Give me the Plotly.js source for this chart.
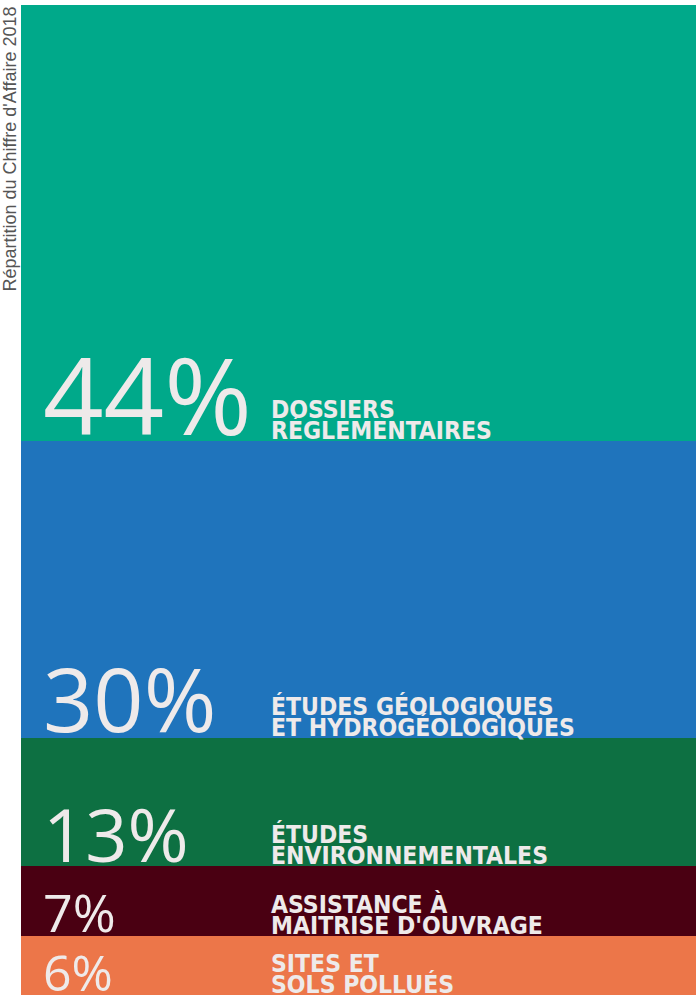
<!DOCTYPE html>
<html>
<head>
<meta charset="utf-8">
<script src="https://cdn.plot.ly/plotly-3.0.1.min.js"></script>
<style>html,body{margin:0;padding:0;background:#fff;}#chart{width:696px;height:995px;}</style>
</head>
<body>
<div id="chart"></div>
<script>
// Data (top to bottom in the picture)
const categories = ["Dossiers réglementaires", "Études géologiques et hydrogéologiques", "Études environnementales", "Assistance à maîtrise d'ouvrage", "Sites et sols pollués"];
const shares = [44, 30, 13, 7, 6];
const pctLabels = ["44%", "30%", "13%", "7%", "6%"];
const labelLine1 = ["DOSSIERS", "ÉTUDES GÉOLOGIQUES", "ÉTUDES", "ASSISTANCE À", "SITES ET"];
const labelLine2 = ["RÉGLEMENTAIRES", "ET HYDROGÉOLOGIQUES", "ENVIRONNEMENTALES", "MAITRISE D'OUVRAGE", "SOLS POLLUÉS"];
const colors = ["#00A98A", "#1F74BC", "#0D7042", "#4A0012", "#EC7649"];
const pctSizes = [106, 88, 74, 52, 50];
const title = "Répartition du Chiffre d'Affaire 2018";

// stacking: bottom-most segment drawn first
const order = [4, 3, 2, 1, 0];
const traces = order.map(i => ({
  type: 'bar',
  x: ['CA'],
  y: [shares[i]],
  name: categories[i],
  marker: {color: colors[i], line: {width: 0}},
  hoverinfo: 'name+y',
  showlegend: false
}));

// bottoms of each segment in data units
const bottoms = [];
let acc = 0;
for (const i of order) { bottoms[i] = acc; acc += shares[i]; }

const txtColor = "#EEEAEA";
const annotations = [];
for (let i = 0; i < shares.length; i++) {
  annotations.push({
    xref: 'paper', yref: 'y', x: 0.035, y: bottoms[i], xanchor: 'left', yanchor: 'bottom',
    text: pctLabels[i], showarrow: false, yshift: -pctSizes[i] * 0.26, xshift: -4,
    font: {family: 'Open Sans, sans-serif', weight: 400, size: pctSizes[i], color: txtColor}
  });
  annotations.push({
    xref: 'paper', yref: 'y', x: 0.372, y: bottoms[i], xanchor: 'left', yanchor: 'bottom',
    text: labelLine2[i], showarrow: false, yshift: -6, xshift: -3,
    font: {family: 'DejaVu Sans Condensed, sans-serif', weight: 'bold', size: 24.5, color: txtColor}
  });
  annotations.push({
    xref: 'paper', yref: 'y', x: 0.372, y: bottoms[i], xanchor: 'left', yanchor: 'bottom',
    text: labelLine1[i], showarrow: false, yshift: 15, xshift: -3,
    font: {family: 'DejaVu Sans Condensed, sans-serif', weight: 'bold', size: 24.5, color: txtColor}
  });
}
annotations.push({
  xref: 'paper', yref: 'paper', x: 0, y: 1, xanchor: 'center', yanchor: 'top', xshift: -12,
  text: title, textangle: -90, showarrow: false,
  font: {family: 'Liberation Sans, Arial, sans-serif', size: 18, color: '#555555'}
});

const layout = {
  width: 696, height: 995,
  margin: {l: 21, r: 0, t: 5, b: 0, pad: 0},
  barmode: 'stack', bargap: 0,
  paper_bgcolor: '#ffffff', plot_bgcolor: '#ffffff',
  xaxis: {visible: false, fixedrange: true},
  yaxis: {visible: false, range: [0, 100], fixedrange: true},
  annotations: annotations
};
Plotly.newPlot('chart', traces, layout, {displayModeBar: false, staticPlot: true});
</script>
</body>
</html>
